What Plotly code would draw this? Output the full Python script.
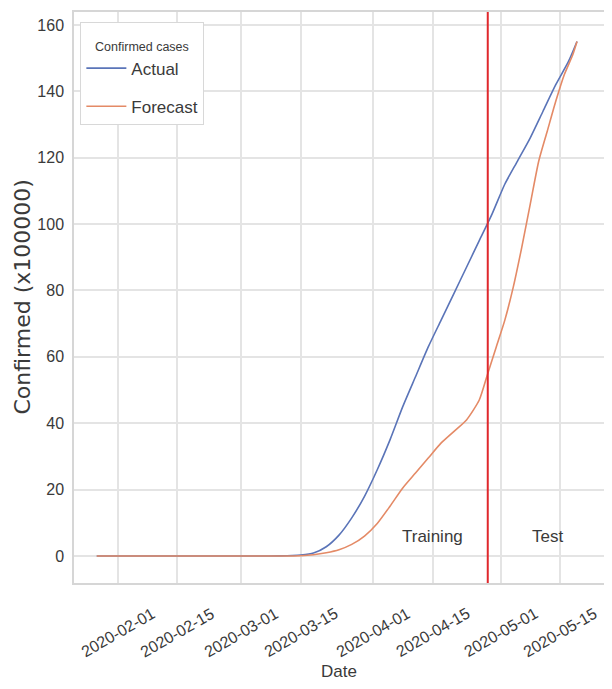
import plotly.graph_objects as go

# ---- data ----
actual_dates = ["2020-01-27", "2020-02-10", "2020-02-24", "2020-03-05", "2020-03-10",
                "2020-03-13", "2020-03-15", "2020-03-18", "2020-03-21", "2020-03-24",
                "2020-03-27", "2020-03-30", "2020-04-02", "2020-04-05", "2020-04-08",
                "2020-04-11", "2020-04-14", "2020-04-17", "2020-04-20", "2020-04-23",
                "2020-04-26", "2020-04-29", "2020-05-02", "2020-05-05", "2020-05-08",
                "2020-05-11", "2020-05-14", "2020-05-17", "2020-05-19"]
actual_vals = [0, 0, 0, 0, 0.05,
               0.15, 0.3, 0.9, 2.8, 6.3,
               11.5, 18, 26, 35, 45,
               54, 63, 71, 79, 87,
               95, 103, 112, 119, 126,
               134, 142, 149, 155]

forecast_dates = ["2020-01-27", "2020-02-10", "2020-02-24", "2020-03-05", "2020-03-10",
                  "2020-03-15", "2020-03-18", "2020-03-21", "2020-03-24", "2020-03-27",
                  "2020-03-30", "2020-04-02", "2020-04-05", "2020-04-08", "2020-04-11",
                  "2020-04-14", "2020-04-17", "2020-04-20", "2020-04-23", "2020-04-26",
                  "2020-04-28", "2020-04-30", "2020-05-02", "2020-05-04", "2020-05-06",
                  "2020-05-08", "2020-05-10", "2020-05-12", "2020-05-14", "2020-05-16",
                  "2020-05-18", "2020-05-19"]
forecast_vals = [0, 0, 0, 0, 0.02,
                 0.1, 0.4, 1.0, 1.9, 3.5,
                 6, 9.8, 15, 20.5, 25,
                 29.5, 34, 37.5, 41, 47,
                 55, 63, 71, 81, 93,
                 106, 119, 128, 137, 145,
                 151, 155]

split_date = "2020-04-28"
tick_dates = ["2020-02-01", "2020-02-15", "2020-03-01", "2020-03-15",
              "2020-04-01", "2020-04-15", "2020-05-01", "2020-05-15"]
tick_labels = tick_dates
y_ticks = [0, 20, 40, 60, 80, 100, 120, 140, 160]
region_labels = ["Training", "Test"]
region_pos = ["2020-04-15", "2020-05-12"]
region_y = [6, 6]

FONT = "Liberation Sans, Arial, sans-serif"
TXT = "#3a3a3a"
GRID = "#e4e4e4"

fig = go.Figure()
fig.add_trace(go.Scatter(x=actual_dates, y=actual_vals, mode="lines", name="Actual",
                         line=dict(color="#5a74b8", width=1.6, shape="spline", smoothing=0.6),
                         legendgroup="a"))
fig.add_trace(go.Scatter(x=forecast_dates, y=forecast_vals, mode="lines", name="Forecast",
                         line=dict(color="#e48a66", width=1.6, shape="spline", smoothing=0.6),
                         legendgroup="b"))

fig.add_shape(type="line", xref="x", yref="paper", x0=split_date, x1=split_date,
              y0=0, y1=1, line=dict(color="#e0282c", width=2))

for lab, xp, yp in zip(region_labels, region_pos, region_y):
    fig.add_annotation(x=xp, y=yp, xref="x", yref="y", text=lab, showarrow=False,
                       font=dict(family=FONT, size=17, color=TXT),
                       xanchor="center", yanchor="middle")

for d, lab in zip(tick_dates, tick_labels):
    fig.add_annotation(x=d, y=-0.086, xref="x", yref="paper", text=lab, showarrow=False,
                       textangle=-30, font=dict(family=FONT, size=16, color=TXT),
                       xanchor="center", yanchor="middle")

fig.add_annotation(x=0.5, y=-0.155, xref="paper", yref="paper", text="Date",
                   showarrow=False, font=dict(family=FONT, size=17, color=TXT),
                   xanchor="center", yanchor="middle")

fig.add_annotation(x=-0.098, y=0.5, xref="paper", yref="paper", text="Confirmed (x100000)",
                   showarrow=False, textangle=-90,
                   font=dict(family="DejaVu Sans", size=22, color=TXT),
                   xanchor="center", yanchor="middle")

fig.update_layout(
    width=604, height=681,
    margin=dict(l=66, r=8, t=4, b=106),
    paper_bgcolor="white", plot_bgcolor="white",
    showlegend=True,
    legend=dict(x=0.012, y=0.982, xanchor="left", yanchor="top",
                bgcolor="white", bordercolor="#d8d8d8", borderwidth=1,
                title=dict(text="&nbsp;&nbsp;<span style='font-size:12.5px'>Confirmed cases</span>",
                           font=dict(family=FONT, size=21, color=TXT)),
                font=dict(family=FONT, size=17, color=TXT),
                itemwidth=40, tracegroupgap=13),
    xaxis=dict(type="date", range=["2020-01-21 15:36", "2020-05-25 08:24"],
               tickvals=tick_dates, showticklabels=False, automargin=False,
               showgrid=True, gridcolor=GRID, gridwidth=1.5,
               showline=True, linecolor="#d6d6d6", linewidth=1.5, mirror=True,
               zeroline=False, ticks=""),
    yaxis=dict(range=[-8.13, 163.9], tickvals=y_ticks, automargin=False,
               showgrid=True, gridcolor=GRID, gridwidth=1.5,
               showline=True, linecolor="#d6d6d6", linewidth=1.5, mirror=True,
               zeroline=False, ticks="outside", ticklen=5, tickcolor="rgba(0,0,0,0)",
               tickfont=dict(family=FONT, size=16, color=TXT)),
)

fig.write_html("out.html")
